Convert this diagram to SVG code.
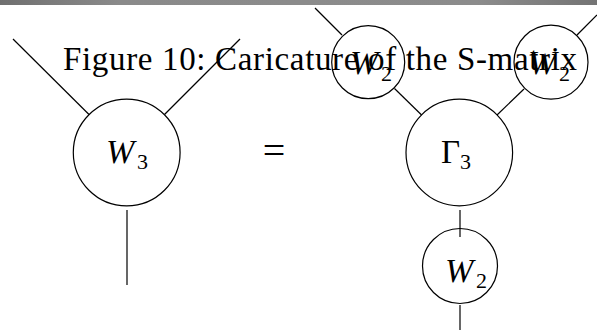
<svg xmlns="http://www.w3.org/2000/svg" width="597" height="330" viewBox="0 0 597 330">
<style>
.c{fill:none;stroke:#000;stroke-width:1.2}
.l{stroke:#000;stroke-width:1.2;fill:none}
.t{font-family:"Liberation Serif","Times New Roman",serif;fill:#000}
.m{font-size:34px;font-style:italic}
.u{font-size:33px}
.s{font-size:22px}
</style>
<defs>
<linearGradient id="bar" x1="0" y1="0" x2="1" y2="0">
<stop offset="0" stop-color="#707070"/>
<stop offset="0.2" stop-color="#8a8a8a"/>
<stop offset="0.8" stop-color="#8c8c8c"/>
<stop offset="1" stop-color="#747474"/>
</linearGradient>
</defs>
<rect x="0" y="0" width="597" height="330" fill="#fff"/>
<rect x="0" y="0" width="597" height="5" fill="url(#bar)"/>
<text id="title" class="t u" x="63" y="70" textLength="514" lengthAdjust="spacing">Figure 10: Caricature of the S-matrix</text>
<g id="connectors">
<line class="l" x1="13" y1="39" x2="89" y2="114.5"/>
<line class="l" x1="240" y1="39" x2="164.5" y2="114.5"/>
<line class="l" x1="127" y1="210" x2="127" y2="285"/>
<line class="l" x1="315" y1="8" x2="342" y2="35"/>
<line class="l" x1="394.5" y1="88.5" x2="421.6" y2="115"/>
<line class="l" x1="597" y1="15" x2="577" y2="35"/>
<line class="l" x1="524" y1="89" x2="497" y2="115"/>
<line class="l" x1="460" y1="210" x2="460" y2="237"/>
<line class="l" x1="460" y1="305" x2="460" y2="330"/>
</g>
<g id="W3">
<circle class="c" cx="126.7" cy="152.5" r="53.4"/>
<text class="t m" x="106" y="163">W</text>
<text class="t s" x="137" y="169">3</text>
</g>
<g id="equals">
<text class="t" x="274" y="164" font-size="40" text-anchor="middle">=</text>
</g>
<g id="Gamma3">
<circle class="c" cx="459.3" cy="152.5" r="53.3"/>
<text class="t u" x="441" y="163">Γ</text>
<text class="t s" x="460" y="169">3</text>
</g>
<g id="W2top-left">
<circle class="c" cx="368.2" cy="62.2" r="36.5"/>
<text class="t m" x="350" y="74">W</text>
<text class="t s" x="381" y="81">2</text>
</g>
<g id="W2top-right">
<circle class="c" cx="551" cy="62.2" r="37"/>
<text class="t m" x="528" y="74">W</text>
<text class="t s" x="559" y="81">2</text>
</g>
<g id="W2bottom">
<circle class="c" cx="460" cy="266" r="37.5"/>
<text class="t m" x="445" y="282">W</text>
<text class="t s" x="476" y="288">2</text>
</g>
</svg>
